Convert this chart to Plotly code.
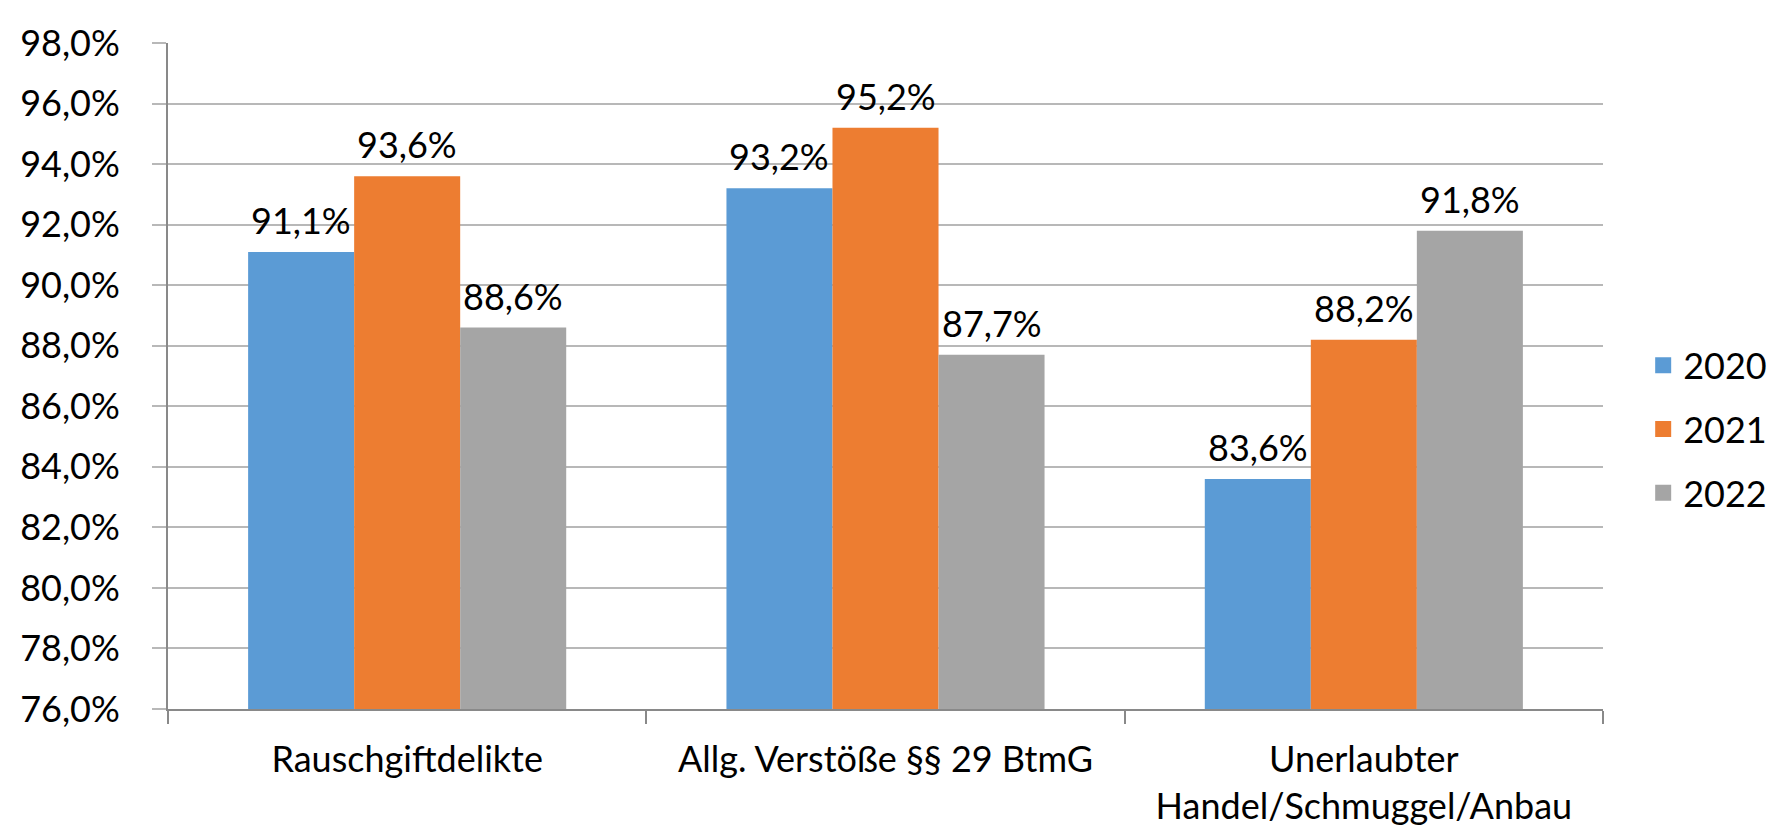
import plotly.graph_objects as go

categories = ["Rauschgiftdelikte", "Allg. Verstöße §§ 29 BtmG", "Unerlaubter<br>Handel/Schmuggel/Anbau"]
years = ["2020", "2021", "2022"]
values_2020 = [0.911, 0.932, 0.836]
values_2021 = [0.936, 0.952, 0.882]
values_2022 = [0.886, 0.877, 0.918]
colors = ["#5B9BD5", "#ED7D31", "#A5A5A5"]

series = [values_2020, values_2021, values_2022]
FONT = "Lato"
BARGAP = 0.335

fig = go.Figure()
for name, vals, col in zip(years, series, colors):
    fig.add_trace(go.Bar(
        x=categories, y=vals, name=name, legendgroup=name,
        marker=dict(color=col, line=dict(width=0)),
        cliponaxis=False, showlegend=False,
    ))
    fig.add_trace(go.Scatter(
        x=[None], y=[None], mode="markers", name=name, legendgroup=name,
        marker=dict(symbol="square", size=16, color=col), showlegend=True,
    ))

# data labels placed above each bar, using the category axis positions
nser = len(series)
bw = (1 - BARGAP) / nser
for si, vals in enumerate(series):
    off = (si - (nser - 1) / 2) * bw
    for ci, v in enumerate(vals):
        fig.add_annotation(
            x=ci + off, y=v, xref="x", yref="y",
            text=f"{v*100:.1f}%".replace(".", ","),
            showarrow=False, yanchor="bottom", xanchor="center", yshift=8,
            font=dict(family=FONT, size=36, color="#000000"),
        )

fig.update_layout(
    width=1776, height=831,
    margin=dict(l=159, r=169, t=25, b=128),
    paper_bgcolor="white", plot_bgcolor="white",
    barmode="group", bargap=BARGAP, bargroupgap=0,
    separators=",.",
    font=dict(family=FONT, size=36, color="#000000"),
    showlegend=True,
    legend=dict(x=1.028, y=0.42, xanchor="left", yanchor="middle",
                font=dict(family=FONT, size=36), itemwidth=30,
                tracegroupgap=14, traceorder="grouped"),
)
fig.update_yaxes(
    range=[0.76, 0.98], dtick=0.02, tick0=0.76, tickformat=".1%",
    showgrid=True, gridcolor="#B8B8B8", gridwidth=1.5,
    showline=True, linecolor="#898989", linewidth=2,
    ticks="outside", ticklen=14, tickcolor="#B8B8B8", tickwidth=1.5,
    ticklabelstandoff=25, zeroline=False,
    tickfont=dict(family=FONT, size=36),
)
fig.update_xaxes(
    showline=True, linecolor="#898989", linewidth=2,
    ticks="outside", tickson="boundaries", ticklen=13, tickcolor="#898989", tickwidth=1.5,
    tickfont=dict(family=FONT, size=36), ticklabelstandoff=18,
)
fig.write_html("out.html")
